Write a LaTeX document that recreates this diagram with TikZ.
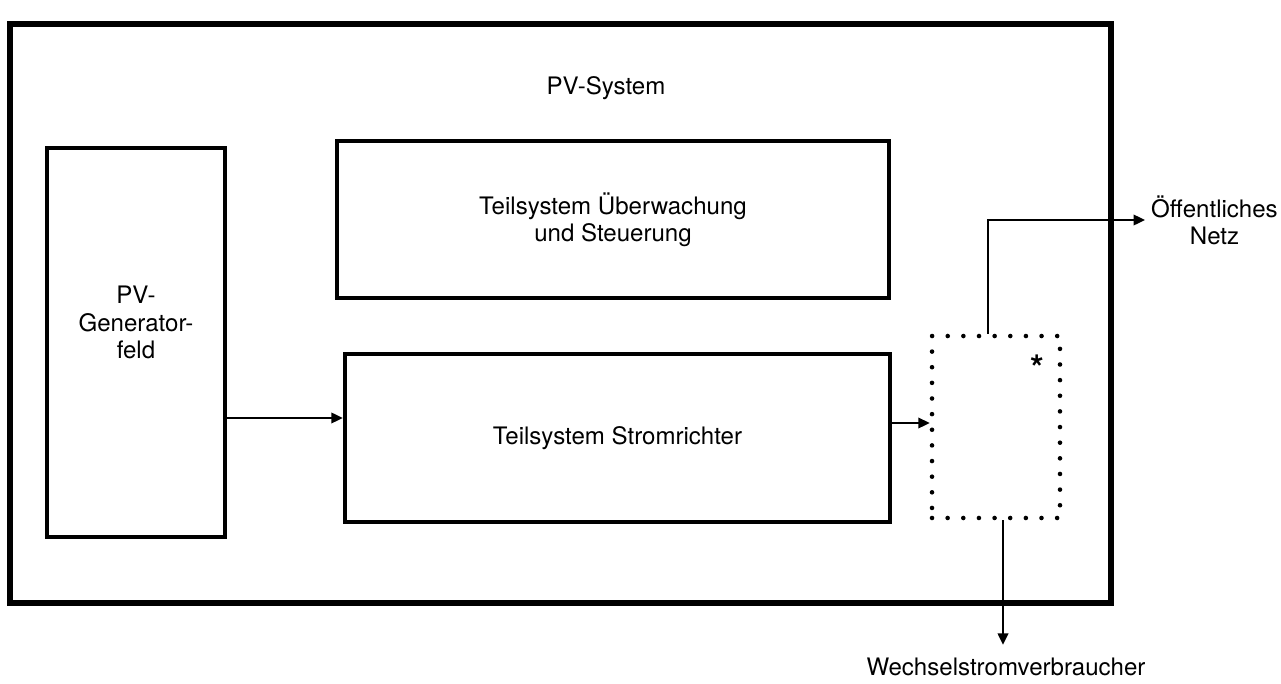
\documentclass[tikz,border=0pt]{standalone}
\usepackage{fontspec}
\setmainfont{TeX Gyre Heros}
\usetikzlibrary{arrows.meta}

\begin{document}
\begin{tikzpicture}[x=0.02cm, y=-0.02cm, every node/.style={font=\fontsize{13.7}{15.5}\selectfont}, >={Triangle[length=6.5pt,width=6pt]},
	block/.style={draw, line width=2.6pt, inner sep=0pt, align=center},
	dotbox/.style={draw, line width=2.6pt, dash pattern=on 0pt off 8.9pt, line cap=round},
	flow/.style={->, line width=1.1pt}]
	\useasboundingbox (0,0) rectangle (1281,683);
	\node[block, line width=3.4pt, minimum width=22.02cm, minimum height=11.58cm] (pvsys) at (560.5,313.5) {};
	\node (title) at (606,88) {PV-System};
	\node[block, minimum width=3.56cm, minimum height=7.78cm] (gen) at (136,342.5) {};
	\node[align=center] (genlabel) at ([yshift=0.4cm]gen.center) {PV-\\Generator-\\feld};
	\node[block, minimum width=11.04cm, minimum height=3.14cm] (mon) at (613,219.5) {Teilsystem Überwachung\\und Steuerung};
	\node[block, minimum width=10.9cm, minimum height=3.36cm] (conv) at (617.5,438) {Teilsystem Stromrichter};
	\node[dotbox, minimum width=2.56cm, minimum height=3.64cm] (split) at (996,427) {};
	\node[font=\fontsize{20}{20}\bfseries\selectfont, inner sep=0pt] (star) at (1037,368) {*};
	\node[anchor=west, align=center] (grid) at (1145,220) {Öffentliches\\Netz};
	\node (load) at (1006,667) {Wechselstromverbraucher};
	\draw[flow] ([yshift=-1.51cm]gen.east) coordinate (a) -- (a -| conv.west);
	\draw[flow] ([yshift=0.3cm]conv.east) coordinate (b) -- (b -| split.west);
	\draw[flow] ([xshift=-0.16cm]split.north) |- (grid.west);
	\draw[flow, shorten >=4pt] ([xshift=0.14cm]split.south) coordinate (c) -- (c |- load.north);
\end{tikzpicture}
\end{document}
